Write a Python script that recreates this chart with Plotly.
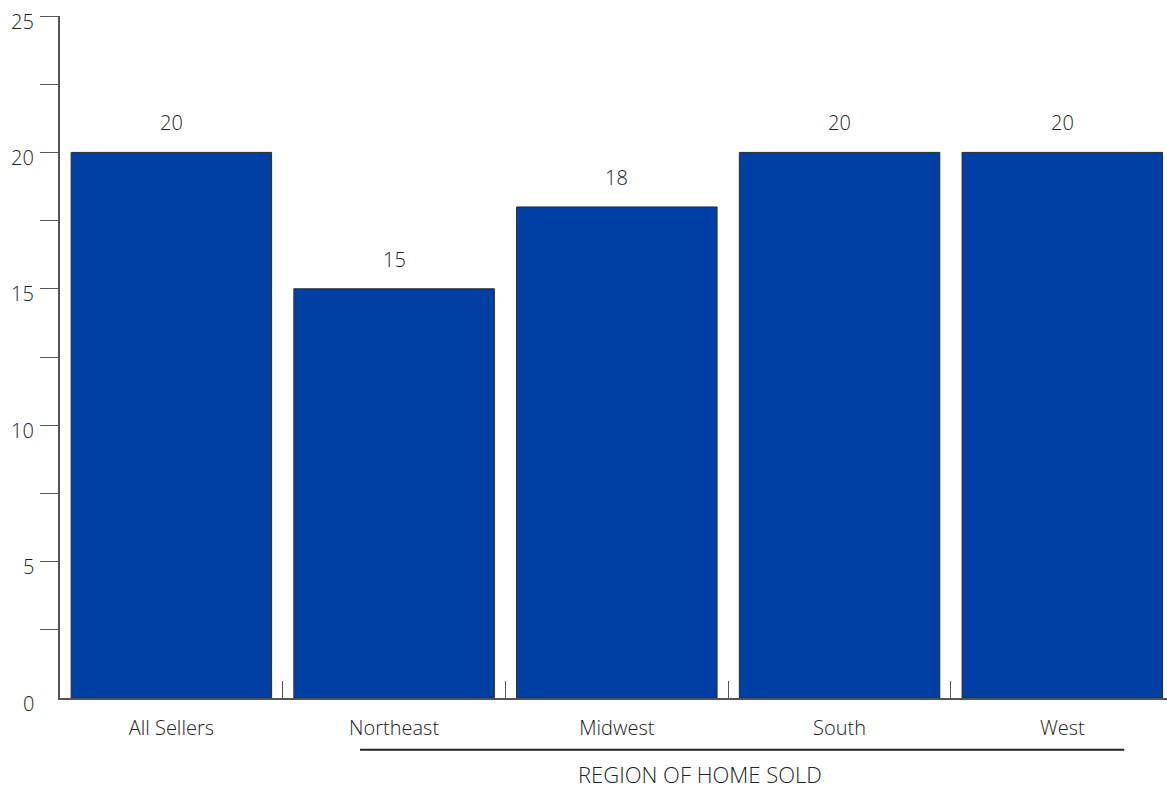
import plotly.graph_objects as go

# Median years in home by region of home sold
categories = ["All Sellers", "Northeast", "Midwest", "South", "West"]
values = [20, 15, 18, 20, 20]
y_tick_vals = [0, 5, 10, 15, 20, 25]
y_minor_vals = [2.5, 5, 7.5, 10, 12.5, 15, 17.5, 20, 22.5, 25]
group_title = "REGION OF HOME SOLD"

BAR = "#003FA3"
INK = "#222222"
AXIS = "#555555"
FONT = "'Open Sans', Lato, sans-serif"
LABEL_FONT = dict(family=FONT, size=20, color=INK, weight=300)

fig = go.Figure(
    go.Bar(
        x=categories,
        y=values,
        marker=dict(color=BAR, line=dict(color="#2a2a2a", width=1)),
        width=0.9,
        hoverinfo="skip",
    )
)

# value labels above each bar
for cat, val in zip(categories, values):
    fig.add_annotation(
        x=cat, y=val, text=str(val), showarrow=False,
        yanchor="bottom", yshift=14, font=LABEL_FONT,
    )

# y tick labels, set a little below their tick marks
for v in y_tick_vals:
    fig.add_annotation(
        xref="paper", yref="y", x=0, y=v, text=str(v), showarrow=False,
        xanchor="right", yanchor="middle", xshift=-24, yshift=-5,
        font=LABEL_FONT,
    )

# bracket line under the regional categories and its title
fig.add_shape(
    type="line", xref="x", yref="paper",
    x0=0.847, x1=4.278, y0=-0.076, y1=-0.076,
    line=dict(color="#222222", width=2),
)
fig.add_annotation(
    xref="x", yref="paper", x=2.374, y=-91 / 682,
    text=group_title, showarrow=False, yanchor="bottom",
    borderpad=0, yshift=-1,
    font=dict(family=FONT, size=22, color=INK, weight=300),
)

fig.update_layout(
    width=1167, height=789,
    margin=dict(l=60, r=0, t=16, b=91),
    plot_bgcolor="white", paper_bgcolor="white",
    showlegend=False,
    font=LABEL_FONT,
    xaxis=dict(
        range=[-0.5, 4.47],
        showline=True, linecolor=AXIS, linewidth=1.5,
        ticks="inside", tickson="boundaries", ticklen=17,
        tickcolor=AXIS, tickwidth=1,
        ticklabelstandoff=11,
        tickfont=LABEL_FONT,
        showgrid=False, zeroline=False,
    ),
    yaxis=dict(
        range=[0, 25],
        showline=True, linecolor=AXIS, linewidth=1.5,
        showticklabels=False, ticks="",
        minor=dict(
            tickmode="array", tickvals=y_minor_vals,
            ticks="outside", ticklen=18, tickcolor=AXIS, tickwidth=1,
            showgrid=False,
        ),
        showgrid=False, zeroline=False,
    ),
)

fig.write_html("out.html")
